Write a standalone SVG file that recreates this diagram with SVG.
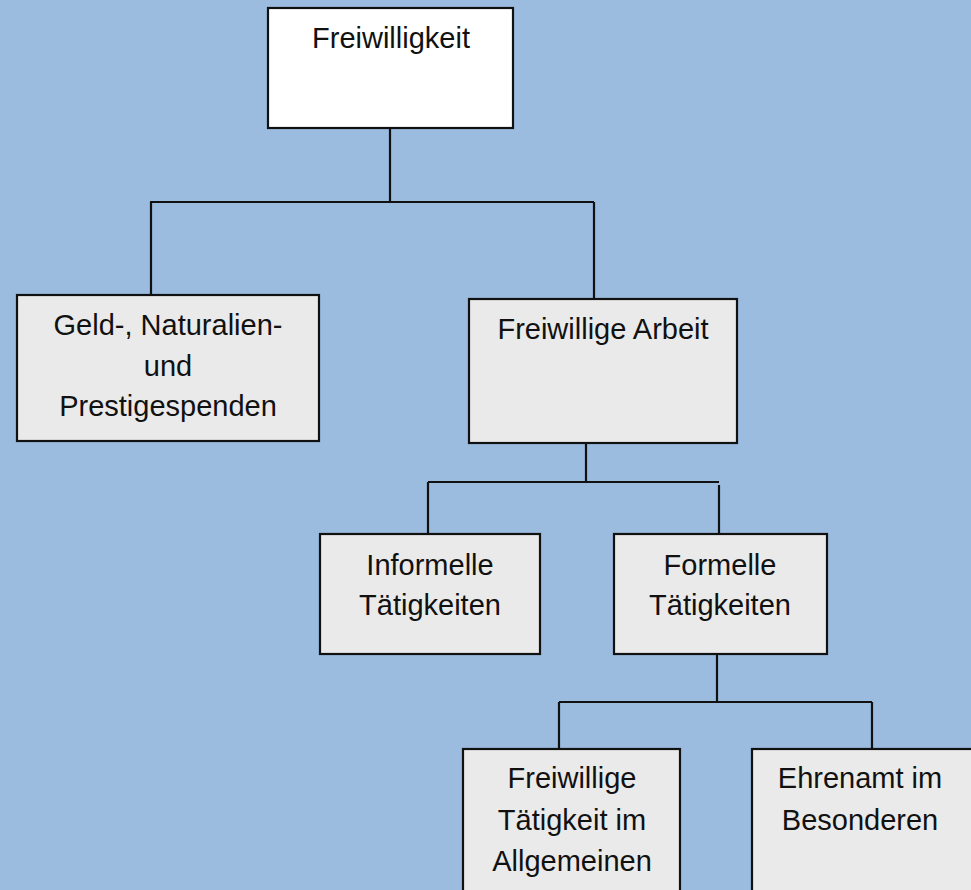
<svg xmlns="http://www.w3.org/2000/svg" width="971" height="890" viewBox="0 0 971 890">
<style>
.box{fill:#EAEAEA;stroke:#111;stroke-width:2.2}
.top{fill:#FFFFFF;stroke:#111;stroke-width:2.2}
.t{font-family:"Liberation Sans",Arial,sans-serif;font-size:29px;fill:#111;text-anchor:middle}
.c{stroke:#111;stroke-width:2.2;fill:none}
</style>
<rect x="0" y="0" width="971" height="890" fill="#9BBCDF"/>
<g id="connectors">
<path class="c" d="M390 128 V202 M150 202 H594 M151 202 V295 M594 202 V299"/>
<path class="c" d="M586 443 V482 M428 482 H719 M428 482 V534 M719 485 V534"/>
<path class="c" d="M717 654 V702 M559 702 H872 M559 702 V749 M872 702 V749"/>
</g>
<g id="n-freiwilligkeit">
<rect class="top" x="268" y="8" width="245" height="120"/>
<text class="t" x="391" y="48">Freiwilligkeit</text>
</g>
<g id="n-spenden">
<rect class="box" x="17" y="295" width="302" height="146"/>
<text class="t" x="168" y="335">Geld-, Naturalien-</text>
<text class="t" x="168" y="376">und</text>
<text class="t" x="168" y="416">Prestigespenden</text>
</g>
<g id="n-arbeit">
<rect class="box" x="469" y="299" width="268" height="144"/>
<text class="t" x="603" y="339">Freiwillige Arbeit</text>
</g>
<g id="n-informell">
<rect class="box" x="320" y="534" width="220" height="120"/>
<text class="t" x="430" y="575">Informelle</text>
<text class="t" x="430" y="615">Tätigkeiten</text>
</g>
<g id="n-formell">
<rect class="box" x="614" y="534" width="213" height="120"/>
<text class="t" x="720" y="575">Formelle</text>
<text class="t" x="720" y="615">Tätigkeiten</text>
</g>
<g id="n-allgemein">
<rect class="box" x="463" y="749" width="217" height="160"/>
<text class="t" x="572" y="788">Freiwillige</text>
<text class="t" x="572" y="830">Tätigkeit im</text>
<text class="t" x="572" y="871">Allgemeinen</text>
</g>
<g id="n-ehrenamt">
<rect class="box" x="752" y="749" width="240" height="160"/>
<text class="t" x="860" y="788">Ehrenamt im</text>
<text class="t" x="860" y="830">Besonderen</text>
</g>
</svg>
